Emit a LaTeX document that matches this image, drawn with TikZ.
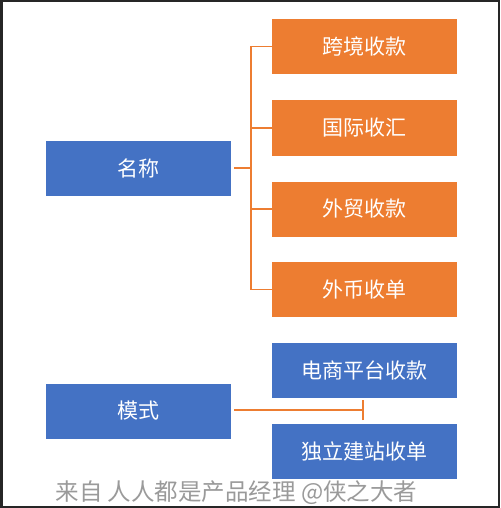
\documentclass[tikz,border=0pt]{standalone}
\usepackage{fontspec}
\newfontfamily\cjk{Noto Sans CJK SC}
\definecolor{obox}{HTML}{ED7D31}
\definecolor{bbox}{HTML}{4472C4}
\definecolor{wm}{HTML}{9A9A9A}
\begin{document}
\begin{tikzpicture}[x=1pt,y=-1pt,
  boxbase/.style={minimum width=185pt,minimum height=55pt,inner sep=0pt,text=white,font=\cjk\fontsize{21pt}{25pt}\selectfont},
  obx/.style={boxbase,fill=obox},
  bbx/.style={boxbase,fill=bbox},
  conn/.style={draw=obox,line width=1.6pt}]
\useasboundingbox (0,0) rectangle (500,508);
\fill[white] (0,0) rectangle (500,508);
\draw[line width=2.5pt,black!85] (1.25,1.25) rectangle (498.75,506.75);
\node[bbx] (name) at (138.5,168) {名称};
\node[obx] (o1) at (364.5,46.5) {跨境收款};
\node[obx] (o2) at (364.5,128) {国际收汇};
\node[obx] (o3) at (364.5,209) {外贸收款};
\node[obx] (o4) at (364.5,289.5) {外币收单};
\node[bbx] (mode) at (138.5,411) {模式};
\node[bbx] (b1) at (364.5,370.5) {电商平台收款};
\node[bbx] (b2) at (364.5,451) {独立建站收单};
\coordinate (bx) at (251,168);
\draw[conn] ([xshift=3pt]name.east) -- (bx);
\draw[conn] (o1.west) -- (o1.west -| bx) -- (o4.west -| bx) -- (o4.west);
\draw[conn] (o2.west) -- (o2.west -| bx);
\draw[conn] (o3.west) -- (o3.west -| bx);
\coordinate (mt) at (363,410);
\draw[conn] ([xshift=3pt]mode.east |- mt) -- (mt);
\draw[conn] ([yshift=-10pt]mt) -- ([yshift=10pt]mt);
\node[text=wm,font=\cjk\fontsize{23.5pt}{27pt}\selectfont,inner sep=0pt,anchor=center] (wmk) at (236.5,493) {来自 人人都是产品经理 @侠之大者};
\end{tikzpicture}
\end{document}
